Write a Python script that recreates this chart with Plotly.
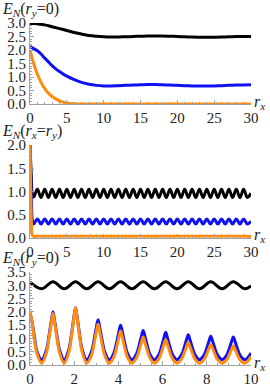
import plotly.graph_objects as go

# ---------------- data ----------------
# Panel 1: E_N(r_y=0) vs r_x, 0..30
x1 = [0, 0.5, 1, 1.5, 2, 2.5, 3, 3.5, 4, 4.5, 5, 6, 7, 8, 9, 10, 11, 12, 13, 14, 15,
      16, 17, 18, 19, 20, 21, 22, 23, 24, 25, 26, 27, 28, 29, 30]
black1 = [2.98, 2.98, 2.97, 2.95, 2.93, 2.90, 2.86, 2.83, 2.79, 2.76, 2.72, 2.65, 2.59,
          2.54, 2.51, 2.49, 2.48, 2.48, 2.49, 2.50, 2.51, 2.52, 2.52, 2.52, 2.51, 2.50,
          2.49, 2.48, 2.475, 2.47, 2.475, 2.48, 2.49, 2.50, 2.50, 2.50]
blue1 = [2.13, 2.05, 1.97, 1.85, 1.70, 1.56, 1.42, 1.30, 1.20, 1.11, 1.03, 0.90, 0.80,
         0.73, 0.69, 0.67, 0.67, 0.68, 0.69, 0.70, 0.71, 0.72, 0.72, 0.71, 0.70, 0.69,
         0.68, 0.67, 0.665, 0.665, 0.67, 0.68, 0.69, 0.70, 0.705, 0.71]
orange1 = [2.0, 1.5, 1.1, 0.8, 0.57, 0.4, 0.28, 0.19, 0.12, 0.07, 0.04, 0.01, 0.0,
           0, 0, 0, 0, 0, 0, 0, 0, 0, 0, 0, 0, 0, 0, 0, 0, 0, 0, 0, 0, 0, 0, 0]

# Panel 2: E_N(r_x=r_y) vs r_x, 0..30
x2 = [0, 0.1, 0.2, 0.3,
      0.5, 1, 1.5, 2, 2.5, 3, 3.5, 4, 4.5, 5, 5.5, 6, 6.5, 7, 7.5, 8, 8.5, 9, 9.5, 10,
      10.5, 11, 11.5, 12, 12.5, 13, 13.5, 14, 14.5, 15, 15.5, 16, 16.5, 17, 17.5, 18,
      18.5, 19, 19.5, 20, 20.5, 21, 21.5, 22, 22.5, 23, 23.5, 24, 24.5, 25, 25.5, 26,
      26.5, 27, 27.5, 28, 28.5, 29, 29.5, 30]
black2 = [2.0, 1.6, 1.2, 0.95,
          0.88, 1.05, 0.87, 1.05, 0.87, 1.05, 0.87, 1.05, 0.87, 1.05, 0.87, 1.05, 0.87,
          1.05, 0.87, 1.05, 0.87, 1.05, 0.87, 1.05, 0.87, 1.05, 0.87, 1.05, 0.87, 1.05,
          0.87, 1.05, 0.87, 1.05, 0.87, 1.05, 0.87, 1.05, 0.87, 1.05, 0.87, 1.05, 0.87,
          1.05, 0.87, 1.05, 0.87, 1.05, 0.87, 1.05, 0.87, 1.05, 0.87, 1.05, 0.87, 1.05,
          0.87, 1.05, 0.87, 1.05, 0.87, 1.05, 0.87, 0.96]
blue2 = [2.0, 1.4, 0.8, 0.4,
         0.30, 0.41, 0.30, 0.41, 0.30, 0.41, 0.30, 0.41, 0.30, 0.41, 0.30, 0.41, 0.30,
         0.41, 0.30, 0.41, 0.30, 0.41, 0.30, 0.41, 0.30, 0.41, 0.30, 0.41, 0.30, 0.41,
         0.30, 0.41, 0.30, 0.41, 0.30, 0.41, 0.30, 0.41, 0.30, 0.41, 0.30, 0.41, 0.30,
         0.41, 0.30, 0.41, 0.30, 0.41, 0.30, 0.41, 0.30, 0.41, 0.30, 0.41, 0.30, 0.41,
         0.30, 0.41, 0.30, 0.41, 0.30, 0.41, 0.30, 0.36]
orange2 = [2.0, 1.0, 0.3, 0.06,
           0.035, 0.045, 0.035, 0.045, 0.035, 0.045, 0.035, 0.045, 0.035, 0.045, 0.035,
           0.045, 0.035, 0.045, 0.035, 0.045, 0.035, 0.045, 0.035, 0.045, 0.035, 0.045,
           0.035, 0.045, 0.035, 0.045, 0.035, 0.045, 0.035, 0.045, 0.035, 0.045, 0.035,
           0.045, 0.035, 0.045, 0.035, 0.045, 0.035, 0.045, 0.035, 0.045, 0.035, 0.045,
           0.035, 0.045, 0.035, 0.045, 0.035, 0.045, 0.035, 0.045, 0.035, 0.045, 0.035,
           0.045, 0.035, 0.045, 0.035, 0.04]

# Panel 3: E_N(r_y=0) vs r_x, 0..10
x3_black = [0, 0.53, 1.04, 1.55, 2.06, 2.57, 3.08, 3.59, 4.10, 4.61, 5.12, 5.63, 6.14,
            6.65, 7.16, 7.67, 8.18, 8.69, 9.20, 9.71, 10.0]
black3 = [3.12, 2.87, 3.13, 2.87, 3.13, 2.87, 3.13, 2.87, 3.13, 2.87, 3.13, 2.87, 3.13,
          2.87, 3.13, 2.87, 3.13, 2.87, 3.13, 2.87, 2.98]

x3 = [0, 0.1, 0.2, 0.32, 0.53,
      0.74, 0.86, 0.96, 1.04, 1.12, 1.22, 1.34, 1.55,
      1.76, 1.88, 1.98, 2.06, 2.14, 2.24, 2.36, 2.57,
      2.78, 2.90, 3.00, 3.08, 3.16, 3.26, 3.38, 3.59,
      3.80, 3.92, 4.02, 4.10, 4.18, 4.28, 4.40, 4.61,
      4.82, 4.94, 5.04, 5.12, 5.20, 5.30, 5.42, 5.63,
      5.84, 5.96, 6.06, 6.14, 6.22, 6.32, 6.44, 6.65,
      6.86, 6.98, 7.08, 7.16, 7.24, 7.34, 7.46, 7.67,
      7.88, 8.00, 8.10, 8.18, 8.26, 8.36, 8.48, 8.69,
      8.90, 9.02, 9.12, 9.20, 9.28, 9.38, 9.50, 9.71,
      9.85, 10.0]
blue3 = [1.95, 1.6, 1.05, 0.5, 0.2,
         0.56, 1.1, 1.64, 2.0, 1.64, 1.1, 0.56, 0.2,
         0.59, 1.175, 1.76, 2.15, 1.76, 1.175, 0.59, 0.2,
         0.5, 0.95, 1.4, 1.7, 1.4, 0.95, 0.5, 0.2,
         0.46, 0.85, 1.24, 1.5, 1.24, 0.85, 0.46, 0.2,
         0.42, 0.75, 1.08, 1.3, 1.08, 0.75, 0.42, 0.2,
         0.41, 0.715, 1.02, 1.23, 1.02, 0.715, 0.41, 0.2,
         0.39, 0.67, 0.95, 1.14, 0.95, 0.67, 0.39, 0.2,
         0.38, 0.64, 0.90, 1.08, 0.90, 0.64, 0.38, 0.2,
         0.37, 0.625, 0.88, 1.05, 0.88, 0.625, 0.37, 0.2,
         0.27, 0.45]
orange3 = [2.0, 1.6, 0.95, 0.42, 0.07,
           0.45, 1.01, 1.57, 1.95, 1.57, 1.01, 0.45, 0.07,
           0.49, 1.11, 1.73, 2.15, 1.73, 1.11, 0.49, 0.07,
           0.36, 0.80, 1.25, 1.54, 1.25, 0.80, 0.36, 0.07,
           0.31, 0.675, 1.04, 1.28, 1.04, 0.675, 0.31, 0.07,
           0.27, 0.56, 0.85, 1.05, 0.85, 0.56, 0.27, 0.07,
           0.25, 0.51, 0.77, 0.95, 0.77, 0.51, 0.25, 0.07,
           0.23, 0.46, 0.69, 0.85, 0.69, 0.46, 0.23, 0.07,
           0.21, 0.42, 0.63, 0.77, 0.63, 0.42, 0.21, 0.07,
           0.20, 0.395, 0.59, 0.72, 0.59, 0.395, 0.20, 0.07,
           0.14, 0.32]

# tick values
y1_ticks = [0, 0.5, 1.0, 1.5, 2.0, 2.5, 3.0]
y2_ticks = [0, 0.5, 1.0, 1.5, 2.0]
y3_ticks = [0, 0.5, 1.0, 1.5, 2.0, 2.5, 3.0, 3.5]
x12_ticks = [0, 5, 10, 15, 20, 25, 30]
x3_ticks = [0, 2, 4, 6, 8, 10]

# ---------------- figure ----------------
W, H = 270, 386
BLACK, BLUE, ORANGE = "#000000", "#1010f0", "#ff8c10"
FONT = "Liberation Serif"
AXC = "#a0a0a0"

def pdom(top_px, bot_px):
    return [1 - bot_px / H, 1 - top_px / H]

fig = go.Figure()

def add(x, y, color, n, w=3):
    fig.add_trace(go.Scatter(x=x, y=y, mode="lines",
                             line=dict(color=color, width=w, shape="spline", smoothing=1.0),
                             xaxis="x" + ("" if n == 1 else str(n)),
                             yaxis="y" + ("" if n == 1 else str(n)),
                             showlegend=False, hoverinfo="skip"))

add(x1, black1, BLACK, 1)
add(x1, blue1, BLUE, 1)
add(x1, orange1, ORANGE, 1)
add(x2, black2, BLACK, 2)
add(x2, blue2, BLUE, 2)
add(x2, orange2, ORANGE, 2)
add(x3_black, black3, BLACK, 3)
add(x3, blue3, BLUE, 3)
add(x3, orange3, ORANGE, 3)

tickfont = dict(family=FONT, size=15, color="#222222")

def xax(rng, ticks, minor_dt, anchor):
    return dict(range=rng, tickvals=ticks, ticktext=[str(t) for t in ticks],
                showline=True, linecolor=AXC, linewidth=1, mirror=False,
                ticks="inside", ticklen=4, tickcolor=AXC, tickwidth=1,
                minor=dict(ticks="inside", ticklen=2, tickcolor=AXC, dtick=minor_dt),
                showgrid=False, zeroline=False, tickfont=tickfont,
                domain=[0, 1], anchor=anchor, fixedrange=True, automargin=False)

def yax(rng, ticks, dom, anchor):
    return dict(range=rng, tickvals=ticks, ticktext=["%.1f" % t for t in ticks],
                showline=True, linecolor=AXC, linewidth=1, mirror=False,
                ticks="inside", ticklen=4, tickcolor=AXC, tickwidth=1,
                minor=dict(ticks="inside", ticklen=2, tickcolor=AXC, dtick=0.1),
                showgrid=False, zeroline=False, tickfont=tickfont,
                domain=dom, anchor=anchor, fixedrange=True, automargin=False)

fig.update_layout(
    width=W, height=H,
    margin=dict(l=30, r=19, t=0, b=0, autoexpand=False),
    paper_bgcolor="white", plot_bgcolor="white",
    xaxis=xax([0, 30], x12_ticks, 1, "y"),
    yaxis=yax([0, 3.0], y1_ticks, pdom(23, 104), "x"),
    xaxis2=xax([0, 30], x12_ticks, 1, "y2"),
    yaxis2=yax([0, 2.0], y2_ticks, pdom(145, 238), "x2"),
    xaxis3=xax([0, 10], x3_ticks, 0.5, "y3"),
    yaxis3=yax([0, 3.5], y3_ticks, pdom(272, 365), "x3"),
)

title_font = dict(family=FONT, size=16, color="#222222")
titles = [
    ("<i>E</i><sub><i>N</i></sub>(<i>r</i><sub><i>y</i></sub>=0)", 10),
    ("<i>E</i><sub><i>N</i></sub>(<i>r</i><sub><i>x</i></sub>=<i>r</i><sub><i>y</i></sub>)", 131),
    ("<i>E</i><sub><i>N</i></sub>(<i>r</i><sub><i>y</i></sub>=0)", 258),
]
for txt, ypx in titles:
    fig.add_annotation(text=txt, xref="paper", yref="paper",
                       x=-30 / 221, y=1 - ypx / H, xanchor="left", yanchor="middle",
                       showarrow=False, font=title_font)

for ypx in [102, 236, 363]:
    fig.add_annotation(text="<i>r</i><sub><i>x</i></sub>", xref="paper", yref="paper",
                       x=1.0, y=1 - ypx / H, xanchor="left", yanchor="middle",
                       xshift=1, showarrow=False, font=title_font)

fig.write_html("out.html", config={"displayModeBar": False},
               post_script="document.body.style.margin='0';")
